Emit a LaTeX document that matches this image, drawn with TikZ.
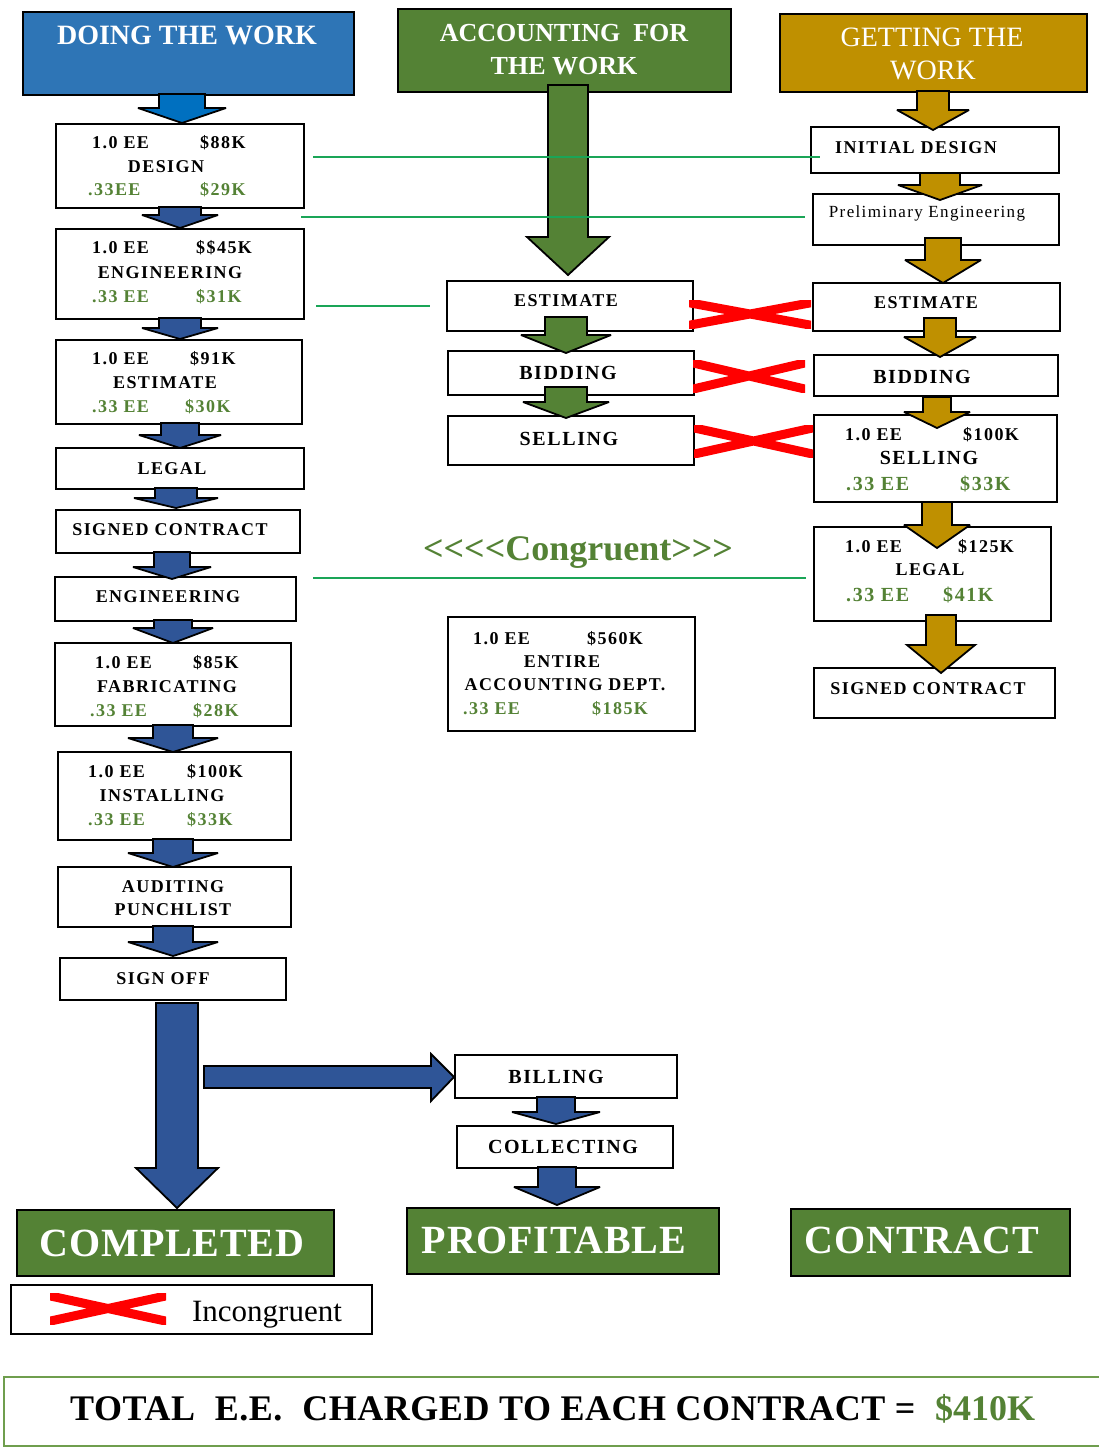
\documentclass[tikz,border=0pt]{standalone}
\usepackage{fontspec}
\setmainfont{Liberation Serif}
\newfontfamily\bxf[LetterSpace=8]{Liberation Serif}
\newfontfamily\bgf[LetterSpace=2]{Liberation Serif}
\newfontfamily\ttf[LetterSpace=1.5]{Liberation Serif}
\definecolor{hblue}{HTML}{2E75B6}
\definecolor{hgreen}{HTML}{548235}
\definecolor{hgold}{HTML}{BF9000}
\definecolor{ablue}{HTML}{2F5597}
\definecolor{lblue}{HTML}{0070C0}
\definecolor{cline}{HTML}{1AA557}
\definecolor{tgreen}{HTML}{548235}
\definecolor{tline}{HTML}{6F9E4E}
\newcommand\mkbox[6][white]{\node[boxst, fill=#1, minimum width={(#5-#3)*1pt}, minimum height={(#6-#4)*1pt}] (#2) at (#3,#4) {};}
\newcommand\BA[7]{\filldraw[arrst, fill=#1] (#2-#6,#3) -- (#2+#6,#3) -- (#2+#6,#4) -- (#2+#7,#4) -- (#2,#5) -- (#2-#7,#4) -- (#2-#6,#4) -- cycle;}
\newcommand\redx[5]{\begin{scope}\clip (#1,#2) rectangle (#3,#4);
\draw[red, line width=#5] (#1-4,#2+2) -- (#3+4,#4-2) (#1-4,#4-2) -- (#3+4,#2+2);\end{scope}}
\begin{document}
\begin{tikzpicture}[x=1pt,y=-1pt,
  boxst/.style={draw=black, line width=1.8pt, inner sep=0pt, anchor=north west},
  arrst/.style={draw=black, line width=1.8pt, line join=miter, miter limit=3},
  t/.style={inner sep=0pt, anchor=base, font=\bxf\bfseries\fontsize{18}{20}\selectfont},
  tb/.style={t, font=\bxf\bfseries\fontsize{20}{22}\selectfont},
  tl/.style={t, anchor=base west},
  tlb/.style={tb, anchor=base west},
  g/.style={text=tgreen},
  cl/.style={draw=cline, line width=2pt},
  big/.style={inner sep=0pt, anchor=base, text=white, font=\bgf\bfseries\fontsize{40}{42}\selectfont}]
\fill[white] (0,0) rectangle (1099,1447);
\useasboundingbox (0,0) rectangle (1099,1447);
% headers
\mkbox[hblue]{H1}{22}{11}{353}{94}
\mkbox[hgreen]{H2}{397}{8}{730}{91}
\mkbox[hgold]{H3}{779}{13}{1086}{91}
\node[inner sep=0pt, anchor=base, text=white, font=\bfseries\fontsize{28}{30}\selectfont] (h1t) at (187,45) {DOING THE WORK};
\node[inner sep=0pt, anchor=base, text=white, font=\bfseries\fontsize{26}{28}\selectfont] (h2t) at (564,42) {ACCOUNTING\hspace{0.5em}FOR};
\node[inner sep=0pt, anchor=base, text=white, font=\bfseries\fontsize{26}{28}\selectfont] (h2u) at (564,75) {THE WORK};
\node[inner sep=0pt, anchor=base, text=white, font=\fontsize{28}{30}\selectfont] (h3t) at (932,47) {GETTING THE};
\node[inner sep=0pt, anchor=base, text=white, font=\fontsize{28}{30}\selectfont] (h3u) at (933,80) {WORK};
% left boxes
\mkbox{L1}{55}{123}{303}{207}
\mkbox{L2}{55}{228}{303}{318}
\mkbox{L3}{55}{339}{301}{423}
\mkbox{L4}{55}{447}{303}{488}
\mkbox{L5}{55}{509}{299}{552}
\mkbox{L6}{54}{576}{295}{620}
\mkbox{L7}{54}{642}{290}{725}
\mkbox{L8}{57}{751}{290}{839}
\mkbox{L9}{57}{866}{290}{926}
\mkbox{L10}{59}{957}{285}{999}
% middle boxes
\mkbox{M1}{446}{280}{692}{330}
\mkbox{M2}{447}{350}{693}{394}
\mkbox{M3}{447}{415}{693}{464}
\mkbox{M4}{447}{616}{694}{730}
% right boxes
\mkbox{R1}{810}{126}{1058}{172}
\mkbox{R2}{812}{193}{1058}{244}
\mkbox{R3}{812}{282}{1059}{330}
\mkbox{R4}{813}{354}{1057}{395}
\mkbox{R5}{813}{414}{1056}{501}
\mkbox{R6}{813}{526}{1050}{620}
\mkbox{R7}{813}{667}{1054}{717}
% bottom boxes
\mkbox{B1}{454}{1054}{676}{1097}
\mkbox{B2}{456}{1125}{672}{1167}
\mkbox[hgreen]{C1}{16}{1209}{333}{1275}
\mkbox[hgreen]{C2}{406}{1207}{718}{1273}
\mkbox[hgreen]{C3}{790}{1208}{1069}{1275}
\mkbox{LG}{10}{1284}{371}{1333}
\draw[draw=tline, line width=2pt] (4,1377) rectangle (1110,1446);
% block arrows
\BA{lblue}{182}{94}{108}{123}{23}{44}
\BA{ablue}{180}{207}{215}{228}{21}{38}
\BA{ablue}{180}{318}{328}{339}{21}{38}
\BA{ablue}{180}{423}{435}{448}{19}{41}
\BA{ablue}{176}{488}{498}{508}{21}{42}
\BA{ablue}{172}{552}{567}{579}{18}{39}
\BA{ablue}{173}{620}{628}{643}{19}{40}
\BA{ablue}{173}{725}{738}{752}{20}{45}
\BA{ablue}{173}{839}{853}{867}{20}{45}
\BA{ablue}{173}{926}{942}{956}{20}{45}
\BA{ablue}{177}{1003}{1168}{1208}{21}{41}
\filldraw[arrst, fill=ablue] (204,1066) -- (431,1066) -- (431,1054) -- (454,1077) -- (431,1101) -- (431,1088) -- (204,1088) -- cycle;
\BA{ablue}{556}{1097}{1112}{1124}{19}{44}
\BA{ablue}{557}{1167}{1187}{1205}{19}{43}
\BA{hgreen}{568}{85}{237}{275}{20}{41}
\BA{hgreen}{566}{317}{335}{353}{21}{45}
\BA{hgreen}{566}{387}{402}{418}{21}{43}
\BA{hgold}{933}{91}{110}{130}{16}{36}
\BA{hgold}{940}{173}{185}{200}{20}{42}
\BA{hgold}{943}{238}{260}{283}{18}{38}
\BA{hgold}{940}{318}{337}{357}{16}{36}
\BA{hgold}{937}{397}{412}{428}{14}{33}
\BA{hgold}{937}{502}{525}{548}{15}{33}
\BA{hgold}{941}{615}{645}{673}{15}{34}
% left texts
\node[tl] (l1a) at (92,149) {1.0 EE};
\node[tl] (l1b) at (200,149) {\$88K};
\node[t] (l1c) at (166,173) {DESIGN};
\node[tl,g] (l1d) at (88,196) {.33EE};
\node[tl,g] (l1e) at (200,196) {\$29K};
\node[tl] (l2a) at (92,254) {1.0 EE};
\node[tl] (l2b) at (196,254) {\$\$45K};
\node[t] (l2c) at (170,278) {ENGINEERING};
\node[tl,g] (l2d) at (92,302) {.33 EE};
\node[tl,g] (l2e) at (196,302) {\$31K};
\node[tl] (l3a) at (92,364) {1.0 EE};
\node[tl] (l3b) at (190,364) {\$91K};
\node[t] (l3c) at (165,388) {ESTIMATE};
\node[tl,g] (l3d) at (92,412) {.33 EE};
\node[tl,g] (l3e) at (185,412) {\$30K};
\node[t] (l4t) at (172,474) {LEGAL};
\node[t] (l5t) at (170,535) {SIGNED CONTRACT};
\node[t] (l6t) at (168,602) {ENGINEERING};
\node[tl] (l7a) at (95,668) {1.0 EE};
\node[tl] (l7b) at (193,668) {\$85K};
\node[t] (l7c) at (167,692) {FABRICATING};
\node[tl,g] (l7d) at (90,716) {.33 EE};
\node[tl,g] (l7e) at (193,716) {\$28K};
\node[tl] (l8a) at (88,777) {1.0 EE};
\node[tl] (l8b) at (187,777) {\$100K};
\node[t] (l8c) at (162,801) {INSTALLING};
\node[tl,g] (l8d) at (88,825) {.33 EE};
\node[tl,g] (l8e) at (187,825) {\$33K};
\node[t] (l9a) at (173,892) {AUDITING};
\node[t] (l9b) at (173,915) {PUNCHLIST};
\node[t] (l10t) at (163,984) {SIGN OFF};
% middle texts
\node[t] (m1t) at (566,306) {ESTIMATE};
\node[tb] (m2t) at (568,379) {BIDDING};
\node[tb] (m3t) at (569,445) {SELLING};
\node[tl] (m4a) at (473,644) {1.0 EE};
\node[tl] (m4b) at (587,644) {\$560K};
\node[t] (m4c) at (562,667) {ENTIRE};
\node[t] (m4d) at (565,690) {ACCOUNTING DEPT.};
\node[tl,g] (m4e) at (463,714) {.33 EE};
\node[tl,g] (m4f) at (592,714) {\$185K};
% right texts
\node[t] (r1t) at (916,154) {INITIAL DESIGN};
\node[t, font=\bxf\fontsize{17}{19}\selectfont] (r2t) at (927,218) {Preliminary Engineering};
\node[t] (r3t) at (926,308) {ESTIMATE};
\node[tb] (r4t) at (922,383) {BIDDING};
\node[tl] (r5a) at (845,440) {1.0 EE};
\node[tl] (r5b) at (963,440) {\$100K};
\node[tb] (r5c) at (929,464) {SELLING};
\node[tlb,g] (r5d) at (846,490) {.33 EE};
\node[tlb,g] (r5e) at (960,490) {\$33K};
\node[tl] (r6a) at (845,552) {1.0 EE};
\node[tl] (r6b) at (958,552) {\$125K};
\node[t] (r6c) at (930,575) {LEGAL};
\node[tlb,g] (r6d) at (846,601) {.33 EE};
\node[tlb,g] (r6e) at (943,601) {\$41K};
\node[t] (r7t) at (928,694) {SIGNED CONTRACT};
% bottom texts
\node[tb] (b1t) at (556,1083) {BILLING};
\node[tb] (b2t) at (563,1153) {COLLECTING};
\node[big] (c1t) at (172,1256) {COMPLETED};
\node[big] (c2t) at (554,1253) {PROFITABLE};
\node[big] (c3t) at (922,1253) {CONTRACT};
\node[inner sep=0pt, anchor=base, font=\fontsize{31}{33}\selectfont] (lgt) at (267,1321) {Incongruent};
\node[inner sep=0pt, anchor=base, text=tgreen, font=\bfseries\fontsize{36}{38}\selectfont] (cong) at (578,560) {<\kern0pt<\kern0pt<\kern0pt<Congruent>\kern0pt>\kern0pt>};
\node[inner sep=0pt, anchor=base west, font=\ttf\bfseries\fontsize{36}{38}\selectfont] (tot) at (70,1420) {TOTAL\hspace{0.55em}E.E.\hspace{0.55em}CHARGED TO EACH CONTRACT =};
\node[inner sep=0pt, anchor=base west, text=tgreen, font=\bfseries\fontsize{36}{38}\selectfont] (totv) at (935,1420) {\$410K};
% red X marks
\redx{689}{300}{811}{328}{9}
\redx{693}{360}{805}{392}{9}
\redx{694}{425}{813}{457}{9}
\redx{50}{1293}{166}{1324}{9}
% congruence lines
\coordinate (k1a) at (313,157); \coordinate (k1b) at (820,157);
\coordinate (k2a) at (301,217); \coordinate (k2b) at (805,217);
\coordinate (k3a) at (316,306); \coordinate (k3b) at (430,306);
\coordinate (k4a) at (313,578); \coordinate (k4b) at (806,578);
\draw[cl] (k1a) -- (k1b);
\draw[cl] (k2a) -- (k2b);
\draw[cl] (k3a) -- (k3b);
\draw[cl] (k4a) -- (k4b);
\end{tikzpicture}
\end{document}
